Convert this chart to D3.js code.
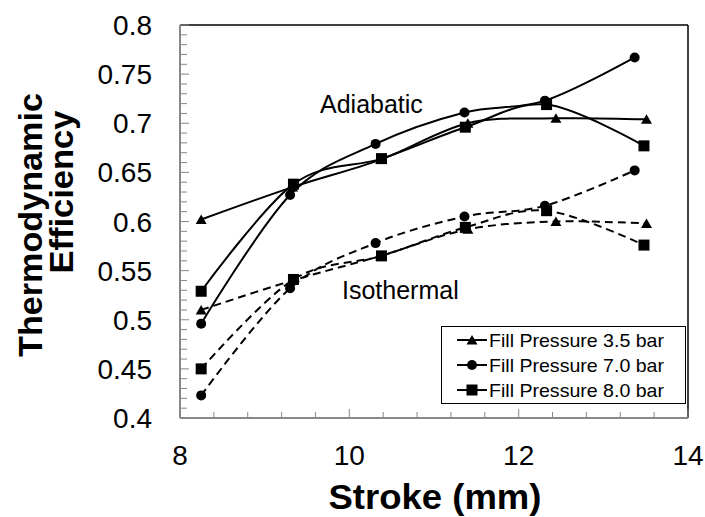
<!DOCTYPE html>
<html>
<head>
<meta charset="utf-8">
<script src="https://cdn.jsdelivr.net/npm/d3@7"></script>
<style>
body{margin:0;background:#fff;}
text{font-family:"Liberation Sans",Arial,sans-serif;}
</style>
</head>
<body>
<svg id="svgID" width="705" height="517"></svg>
<script>
// stroke positions (mm) for each fill pressure
var strokeTri=[8.25,9.33,10.37,11.40,12.44,13.51];
var strokeCirc=[8.25,9.30,10.31,11.36,12.31,13.37];
var strokeSq=[8.25,9.34,10.38,11.37,12.33,13.48];

// adiabatic efficiency (solid)
var adiaTri=[0.602,0.635,0.663,0.700,0.705,0.704];
var adiaCirc=[0.496,0.627,0.679,0.711,0.723,0.767];
var adiaSq=[0.529,0.638,0.664,0.696,0.719,0.677];

// isothermal efficiency (dashed)
var isoTri=[0.510,0.540,0.565,0.592,0.600,0.598];
var isoCirc=[0.423,0.532,0.578,0.605,0.616,0.652];
var isoSq=[0.450,0.541,0.565,0.594,0.611,0.576];

var legendNames=["Fill Pressure 3.5 bar","Fill Pressure 7.0 bar","Fill Pressure 8.0 bar"];
var xTicks=[8,10,12,14];
var yTicks=[0.4,0.45,0.5,0.55,0.6,0.65,0.7,0.75,0.8];

var svg=d3.select("#svgID");
var pLeft=180,pRight=688,pTop=25,pBottom=418;

var x=d3.scaleLinear().domain([8,14]).range([pLeft,pRight]);
var y=d3.scaleLinear().domain([0.4,0.8]).range([pBottom,pTop]);

var series=[
    {xs:strokeTri,ys:adiaTri,shape:"tri",dash:null},
    {xs:strokeCirc,ys:adiaCirc,shape:"circ",dash:null},
    {xs:strokeSq,ys:adiaSq,shape:"sq",dash:null},
    {xs:strokeTri,ys:isoTri,shape:"tri",dash:"8,5"},
    {xs:strokeCirc,ys:isoCirc,shape:"circ",dash:"8,5"},
    {xs:strokeSq,ys:isoSq,shape:"sq",dash:"8,5"}
];

// plot frame: black top/right, gray axes left/bottom
svg.append("line").attr("x1",pLeft).attr("x2",pRight).attr("y1",pTop).attr("y2",pTop)
    .attr("stroke","#000").attr("stroke-width",1.5);
svg.append("line").attr("x1",pRight).attr("x2",pRight).attr("y1",pTop).attr("y2",pBottom)
    .attr("stroke","#000").attr("stroke-width",1.5);

// minor ticks drawn inside the plot
var yMinor=d3.range(0,41).map(function(i){return 0.4+i*0.01;});
svg.append("g").selectAll("line").data(yMinor).enter().append("line")
    .attr("x1",pLeft).attr("x2",function(d,i){return pLeft+(i%5==0?9:7);})
    .attr("y1",function(d){return y(d);}).attr("y2",function(d){return y(d);})
    .attr("stroke","#888").attr("stroke-width",1);
var xMinor=d3.range(0,16).map(function(i){return 8+i*0.4;});
svg.append("g").selectAll("line").data(xMinor).enter().append("line")
    .attr("x1",function(d){return x(d);}).attr("x2",function(d){return x(d);})
    .attr("y1",pBottom).attr("y2",function(d,i){return pBottom-(i%5==0?9:6);})
    .attr("stroke","#888").attr("stroke-width",1);

svg.append("line").attr("x1",pLeft).attr("x2",pLeft).attr("y1",pTop).attr("y2",pBottom)
    .attr("stroke","#888").attr("stroke-width",2);
svg.append("line").attr("x1",pLeft).attr("x2",pRight).attr("y1",pBottom).attr("y2",pBottom)
    .attr("stroke","#888").attr("stroke-width",2);

// tick labels
svg.append("g").selectAll("text").data(yTicks).enter().append("text")
    .attr("x",152).attr("y",function(d){return y(d)+10;})
    .attr("text-anchor","end").attr("font-size",28)
    .text(function(d){return d3.format("")(+d.toFixed(2));});
svg.append("g").selectAll("text").data(xTicks).enter().append("text")
    .attr("x",function(d){return x(d);}).attr("y",465)
    .attr("text-anchor","middle").attr("font-size",28)
    .text(function(d){return d;});

// axis titles
svg.append("text").attr("x",435).attr("y",509).attr("text-anchor","middle")
    .attr("font-size",35).attr("font-weight","bold")
    .attr("textLength",213).attr("lengthAdjust","spacingAndGlyphs").text("Stroke (mm)");
svg.append("text").attr("transform","translate(42,225) rotate(-90)").attr("text-anchor","middle")
    .attr("font-size",34).attr("font-weight","bold")
    .attr("textLength",264).attr("lengthAdjust","spacingAndGlyphs").text("Thermodynamic");
svg.append("text").attr("transform","translate(73,192) rotate(-90)").attr("text-anchor","middle")
    .attr("font-size",34).attr("font-weight","bold")
    .attr("textLength",163).attr("lengthAdjust","spacingAndGlyphs").text("Efficiency");

// smoothed lines like the spreadsheet chart
var line=d3.line().curve(d3.curveCardinal.tension(0));
series.forEach(function(s){
    var pts=s.xs.map(function(v,i){return [x(v),y(s.ys[i])];});
    svg.append("path").attr("d",line(pts)).attr("fill","none")
        .attr("stroke","#000").attr("stroke-width",2)
        .attr("stroke-dasharray",s.dash);
});

//Draw a marker at px,py
function drawMarker(g,shape,px,py){
    if(shape=="circ"){
        g.append("circle").attr("cx",px).attr("cy",py).attr("r",5).attr("fill","#000");
    }else if(shape=="sq"){
        g.append("rect").attr("x",px-5.5).attr("y",py-5.5).attr("width",11).attr("height",11).attr("fill","#000");
    }else{
        g.append("path").attr("d","M"+(px-5.5)+","+(py+4.5)+"L"+px+","+(py-5)+"L"+(px+5.5)+","+(py+4.5)+"Z")
            .attr("fill","#000");
    }
}

var marks=svg.append("g");
series.forEach(function(s){
    s.xs.forEach(function(v,i){drawMarker(marks,s.shape,x(v),y(s.ys[i]));});
});

// curve labels
svg.append("text").attr("x",320).attr("y",113).attr("font-size",25).text("Adiabatic");
svg.append("text").attr("x",342).attr("y",299).attr("font-size",25).text("Isothermal");

// legend
var lg=svg.append("g");
lg.append("rect").attr("x",441.5).attr("y",326.5).attr("width",244).attr("height",77)
    .attr("fill","#fff").attr("stroke","#000").attr("stroke-width",1);
var shapes=["tri","circ","sq"];
legendNames.forEach(function(name,i){
    var cy=340+i*25;
    lg.append("line").attr("x1",457).attr("x2",487).attr("y1",cy).attr("y2",cy)
        .attr("stroke","#000").attr("stroke-width",2);
    drawMarker(lg,shapes[i],472,cy);
    lg.append("text").attr("x",489).attr("y",cy+7).attr("font-size",19)
        .attr("textLength",175).attr("lengthAdjust","spacingAndGlyphs").text(name);
});
</script>
</body>
</html>
